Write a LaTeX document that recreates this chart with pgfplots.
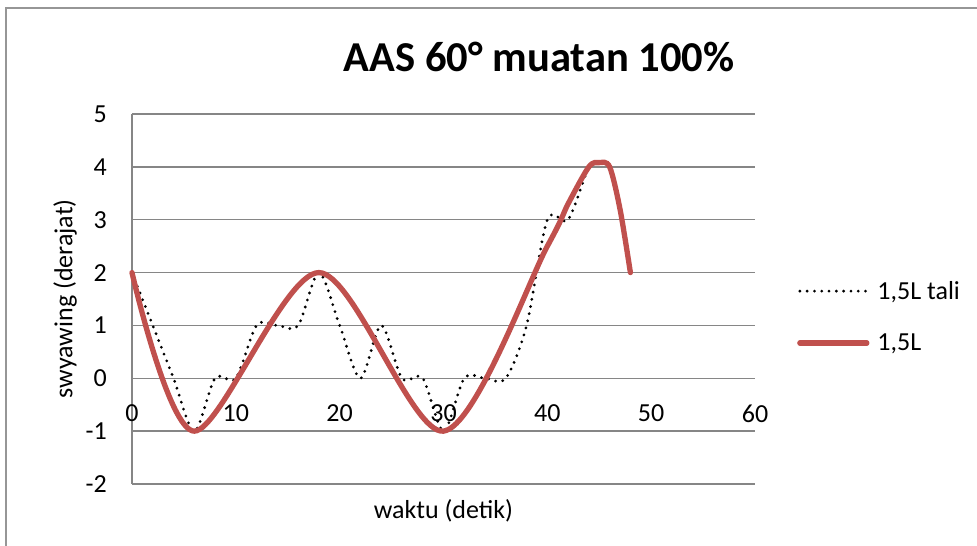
\documentclass[border=0pt]{standalone}
\usepackage{pgfplots}
\pgfplotsset{compat=1.18}
\usepackage{fontspec}
\setmainfont{Carlito}
\definecolor{redline}{RGB}{192,80,77}
\definecolor{gridgray}{RGB}{134,134,134}
\definecolor{framegray}{RGB}{150,150,150}
\newcommand{\tfont}{\fontsize{26}{31}\selectfont}
\begin{document}
\begin{tikzpicture}
\useasboundingbox (0pt,0pt) rectangle (977pt,546pt);
\draw[framegray, line width=2pt] (6pt,0pt) -- (6pt,538pt) -- (977pt,538pt);
\begin{axis}[
  at={(132pt,62pt)}, anchor=south west,
  scale only axis, width=623pt, height=370pt,
  xmin=0, xmax=60, ymin=-2, ymax=5,
  axis x line*=middle, axis y line*=left,
  hide obscured x ticks=false, hide obscured y ticks=false,
  axis line style={gridgray, line width=1.5pt},
  xtick={0,10,...,60}, ytick={-2,-1,...,5},
  major tick length=0pt,
  tick style={draw=none},
  ymajorgrids, grid style={gridgray, line width=1.5pt},
  /pgf/number format/assume math mode=true,
  xticklabel style={font=\tfont, anchor=north, inner sep=0pt, yshift=-26pt},
  yticklabel style={font=\tfont, anchor=east, inner sep=0pt, xshift=-25pt},
  title={\fontsize{42.6}{50}\selectfont\bfseries AAS 60° muatan 100\%},
  title style={at={(axis description cs:0.6533,1)}, anchor=base, yshift=36pt, inner sep=0pt},
  xlabel={waktu (detik)},
  xlabel style={font=\tfont, at={(axis description cs:0.5,0)}, anchor=center, yshift=-27pt},
  ylabel={swyawing (derajat)},
  ylabel style={font=\tfont, at={(axis description cs:-0.1075,0.5)}, anchor=center},
  legend style={at={(rel axis cs:1.0674,0.452)}, anchor=west, draw=none, fill=none,
    inner sep=0pt, font=\tfont, row sep=33pt, column sep=0pt,
    nodes={inner sep=0pt}},
  legend cell align=left,
  legend image code/.code={\draw[#1] (0pt,0pt) -- (67pt,0pt); \path (75pt,0pt);},
  clip=false,
]
\addplot[black, line width=3.1pt, line cap=round, dash pattern=on 0pt off 7.3pt, smooth]
coordinates {(0,2)(2,1)(4,0)(6,-1)(8,0)(10,0)(12,1)(14,1)(16,1)(18,2)(20,1)(22,0)(24,1)(26,0)(28,0)(30,-1)(32,0)(34,0)(36,0)(38,1)(40,3)(42,3)(44,4)(45,4.08)(46,4)(47,3.2)(48,2)};
\addlegendentry{1,5L tali}
\addplot[redline, line width=5.3pt, line cap=round, smooth]
coordinates {(0,2)(6,-1)(18,2)(30,-1)(40,2.5)(42,3.3)(44,4)(45,4.08)(46,4)(47,3.2)(48,2)};
\addlegendentry{1,5L}
\end{axis}
\end{tikzpicture}
\end{document}
